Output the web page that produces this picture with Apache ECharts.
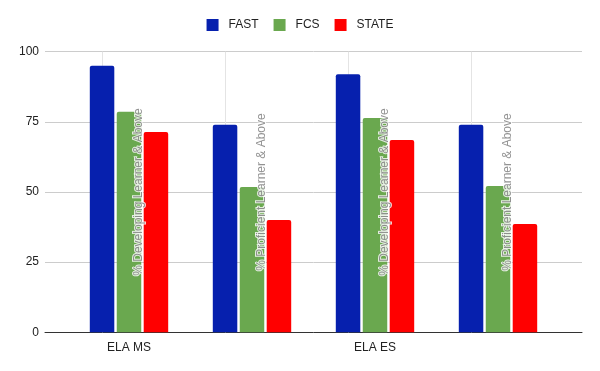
<!DOCTYPE html>
<html><head><meta charset="utf-8">
<script src="https://cdn.jsdelivr.net/npm/echarts@6/dist/echarts.min.js"></script>
<style>html,body{margin:0;padding:0;background:#fff}#c{width:600px;height:371px}</style>
</head><body><div id="c"></div>
<script>
const subjects = ["ELA MS", "ELA MS", "ELA ES", "ELA ES"];
const measures = ["% Developing Learner & Above", "% Proficient Learner & Above", "% Developing Learner & Above", "% Proficient Learner & Above"];
const seriesNames = ["FAST", "FCS", "STATE"];
const fast = [95, 74, 92, 74];
const fcs = [78.6, 51.8, 76.4, 52.1];
const state = [71.4, 40, 68.5, 38.6];
const yTicks = [0, 25, 50, 75, 100];

const colors = ["#0620ae", "#6aa84f", "#ff0000"];
const yMin = yTicks[0], yMax = yTicks[yTicks.length - 1];
const font = "Arial, 'Liberation Sans', sans-serif";
const gTop = 51.7, gBottom = 371 - 332.3;

const chart = echarts.init(document.getElementById('c'), null, {renderer: 'canvas'});
const barCommon = (name, data, i) => ({
  name, type: 'bar', data, xAxisIndex: 1, yAxisIndex: 1,
  barWidth: 24.5, barGap: '10%',
  itemStyle: {color: colors[i], borderRadius: [2, 2, 0, 0]},
  z: 3
});
const s0 = barCommon(seriesNames[0], fast, 0);
s0.markLine = {
  silent: true, symbol: 'none', z: 1,
  label: {show: false},
  lineStyle: {color: '#e4e4e4', type: 'solid', width: 1},
  emphasis: {disabled: true},
  data: subjects.map((s, i) => ({xAxis: i}))
};
chart.setOption({
  animation: false,
  color: colors,
  textStyle: {fontFamily: font},
  legend: {
    top: 14, left: 'center', icon: 'rect', itemWidth: 12, itemHeight: 12, itemGap: 15,
    textStyle: {fontSize: 12, color: '#222', fontFamily: font, padding: [0, 0, 0, 5]},
    data: seriesNames
  },
  grid: [
    {left: 45, right: 18, top: gTop, bottom: gBottom},
    {left: 67.5, right: 40.5, top: gTop, bottom: gBottom}
  ],
  xAxis: [
    {gridIndex: 0, type: 'value', min: 0, max: 1, axisLabel: {show: false}, axisTick: {show: false}, splitLine: {show: false},
      axisLine: {show: true, lineStyle: {color: '#333', width: 1}}},
    {gridIndex: 1, type: 'category', data: subjects, axisLine: {show: false}, axisTick: {show: false},
      axisLabel: {interval: 1, color: '#222', fontSize: 12, margin: 9, fontFamily: font}, splitLine: {show: false}}
  ],
  yAxis: [
    {gridIndex: 0, type: 'value', min: yMin, max: yMax, interval: 25, axisLine: {show: false}, axisTick: {show: false},
      axisLabel: {color: '#222', fontSize: 12, margin: 6, fontFamily: font},
      splitLine: {lineStyle: {color: '#cccccc', width: 1}}},
    {gridIndex: 1, type: 'value', min: yMin, max: yMax, show: false}
  ],
  series: [
    s0,
    barCommon(seriesNames[1], fcs, 1),
    barCommon(seriesNames[2], state, 2),
    {
      type: 'scatter', xAxisIndex: 1, yAxisIndex: 1, silent: true, z: 5,
      symbolSize: 1, itemStyle: {color: 'transparent'},
      data: measures.map((m, i) => [i, (yMin + yMax) / 2]),
      label: {
        show: true, position: 'inside', rotate: 90, offset: [0, 9.5],
        formatter: p => measures[p.dataIndex],
        color: '#777777', fontSize: 12, fontFamily: font,
        textBorderColor: '#fff', textBorderWidth: 2
      }
    }
  ]
});
</script></body></html>
